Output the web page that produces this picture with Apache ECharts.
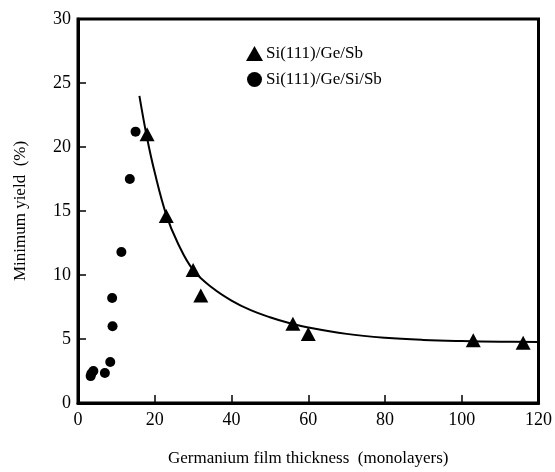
<!DOCTYPE html>
<html>
<head>
<meta charset="utf-8">
<script src="https://cdn.jsdelivr.net/npm/echarts@6/dist/echarts.min.js"></script>
<style>html,body{margin:0;padding:0;background:#fff;}#c{width:555px;height:472px;}</style>
</head>
<body>
<div id="c"></div>
<script>
// Si(111)/Ge/Sb (triangles)
const geSbX = [18, 23, 30, 32, 56, 60, 103, 116];
const geSbY = [21.0, 14.6, 10.4, 8.4, 6.2, 5.4, 4.9, 4.7];
// Si(111)/Ge/Si/Sb (circles)
const geSiSbX = [15, 13.5, 11.3, 8.9, 9.0, 8.4, 7.0, 4.0, 3.5, 3.3];
const geSiSbY = [21.2, 17.5, 11.8, 8.2, 6.0, 3.2, 2.35, 2.5, 2.3, 2.1];
// fitted curve
const fitX = [16, 18, 20, 23, 26, 30, 35, 40, 45, 50, 55, 60, 70, 80, 90, 100, 110, 120];
const fitY = [24.0, 20.7, 18.0, 14.7, 12.5, 10.4, 9.0, 8.0, 7.25, 6.7, 6.25, 5.9, 5.4, 5.1, 4.93, 4.84, 4.79, 4.76];
const xTicks = [0, 20, 40, 60, 80, 100, 120];
const yTicks = [0, 5, 10, 15, 20, 25, 30];

const zip = (a, b) => a.map((v, i) => [v, b[i]]);
const font = 'Liberation Serif';
const chart = echarts.init(document.getElementById('c'), null, {renderer: 'canvas'});
chart.setOption({
  animation: false,
  backgroundColor: '#fff',
  grid: {left: 78, right: 9, top: 19, bottom: 65, show: true, borderColor: '#000', borderWidth: 3},
  legend: {
    orient: 'vertical', left: 241, top: 40, itemGap: 9, itemWidth: 17, itemHeight: 15,
    data: ['Si(111)/Ge/Sb', 'Si(111)/Ge/Si/Sb'],
    itemStyle: {opacity: 1, color: '#000'},
    textStyle: {fontFamily: font, fontSize: 17, color: '#000', padding: [0, 0, 0, -2]}
  },
  xAxis: {
    type: 'value', min: xTicks[0], max: xTicks[xTicks.length - 1], interval: 20,
    name: 'Germanium film thickness  (monolayers)', nameLocation: 'middle', nameGap: 47,
    nameTextStyle: {fontFamily: font, fontSize: 17, color: '#000'},
    axisLine: {show: true, lineStyle: {color: '#000', width: 3}},
    axisTick: {show: true, inside: true, length: 8, lineStyle: {color: '#000', width: 1.5}},
    axisLabel: {fontFamily: font, fontSize: 18, color: '#000', margin: 8},
    splitLine: {show: false}
  },
  yAxis: {
    type: 'value', min: yTicks[0], max: yTicks[yTicks.length - 1], interval: 5,
    name: 'Minimum yield  (%)', nameLocation: 'middle', nameGap: 49,
    nameTextStyle: {fontFamily: font, fontSize: 17, color: '#000'},
    axisLine: {show: true, lineStyle: {color: '#000', width: 3}},
    axisTick: {show: true, inside: true, length: 8, lineStyle: {color: '#000', width: 1.5}},
    axisLabel: {fontFamily: font, fontSize: 18, color: '#000', margin: 7},
    splitLine: {show: false}
  },
  series: [
    {
      name: 'fit', type: 'line', data: zip(fitX, fitY), smooth: 0.4, showSymbol: false,
      lineStyle: {color: '#000', width: 2}, silent: true, z: 1
    },
    {
      name: 'Si(111)/Ge/Sb', type: 'scatter', data: zip(geSbX, geSbY),
      symbol: 'triangle', symbolSize: [15, 14], itemStyle: {color: '#000', opacity: 1}, z: 3
    },
    {
      name: 'Si(111)/Ge/Si/Sb', type: 'scatter', data: zip(geSiSbX, geSiSbY),
      symbol: 'circle', symbolSize: 10, itemStyle: {color: '#000', opacity: 1}, z: 3
    }
  ]
});
</script>
</body>
</html>
